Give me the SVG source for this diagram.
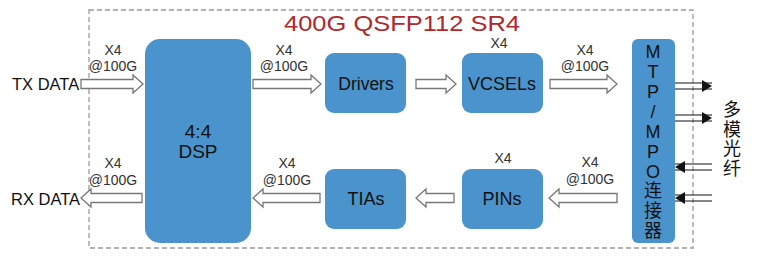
<svg xmlns="http://www.w3.org/2000/svg" width="761" height="259" viewBox="0 0 761 259">
<defs>
<style>
.box{fill:#4A93CD;}
.bt{font-family:"Liberation Sans",Arial,sans-serif;fill:#111;text-anchor:middle;}
.lbl{font-family:"Liberation Sans",Arial,sans-serif;font-size:14px;fill:#333;text-anchor:middle;}
.io{font-family:"Liberation Sans",Arial,sans-serif;font-size:16.5px;fill:#111;}
.ha{fill:#fff;stroke:#777;stroke-width:1.3;}
.fl{stroke:#111;stroke-width:1.2;fill:none;}
.cjk{font-family:"Liberation Sans","Noto Sans CJK SC",sans-serif;fill:#111;text-anchor:middle;}
</style>
</defs>
<rect width="761" height="259" fill="#fff"/>
<rect x="89" y="10" width="604" height="238" fill="none" stroke="#9a9a9a" stroke-width="1.3" stroke-dasharray="5,3"/>
<text x="402" y="31" font-family="Liberation Sans,Arial,sans-serif" font-size="22" fill="#B0282E" text-anchor="middle" textLength="236" lengthAdjust="spacingAndGlyphs">400G QSFP112 SR4</text>

<g id="dsp"><rect class="box" x="145" y="39" width="106" height="204" rx="15"/>
<text class="bt" x="198" y="138" font-size="19">4:4</text><text class="bt" x="198" y="158" font-size="19">DSP</text></g>
<g id="drivers"><rect class="box" x="325" y="53" width="81" height="60" rx="9"/><text class="bt" x="366" y="90" font-size="17.5">Drivers</text></g>
<g id="vcsels"><rect class="box" x="462" y="53" width="81" height="60" rx="9"/><text class="bt" x="502" y="90" font-size="18">VCSELs</text></g>
<g id="tias"><rect class="box" x="325" y="169" width="81" height="60" rx="9"/><text class="bt" x="366" y="205" font-size="18">TIAs</text></g>
<g id="pins"><rect class="box" x="462" y="169" width="81" height="60" rx="9"/><text class="bt" x="502" y="205" font-size="18">PINs</text></g>
<g id="mtp"><rect class="box" x="632" y="39" width="43" height="204" rx="6"/>
<text class="cjk" font-size="18"><tspan x="653" y="58">M</tspan><tspan x="653" y="78">T</tspan><tspan x="653" y="98">P</tspan><tspan x="653" y="118">/</tspan><tspan x="653" y="138">M</tspan><tspan x="653" y="158">P</tspan><tspan x="653" y="178">O</tspan><tspan x="653" y="197">连</tspan><tspan x="653" y="217">接</tspan><tspan x="653" y="237">器</tspan></text></g>
<g id="fiber"><text class="cjk" font-size="18"><tspan x="732" y="116">多</tspan><tspan x="732" y="135.5">模</tspan><tspan x="732" y="155">光</tspan><tspan x="732" y="174.5">纤</tspan></text></g>

<g id="io"><text class="io" x="12" y="90">TX DATA</text><text class="io" x="11" y="205">RX DATA</text></g>

<g id="connectors">
<path class="ha" d="M81,79.5 H133 V75 L143,84 L133,93 V88.5 H81 Z"/>
<path class="ha" d="M253,79.5 H311 V75 L321,84 L311,93 V88.5 H253 Z"/>
<path class="ha" d="M416,79.5 H446 V75 L456,84 L446,93 V88.5 H416 Z"/>
<path class="ha" d="M550,79.5 H607 V75 L617,84 L607,93 V88.5 H550 Z"/>
<path class="ha" d="M617,193.5 H559 V189 L549,198 L559,207 V202.5 H617 Z"/>
<path class="ha" d="M454,193.5 H426 V189 L416,198 L426,207 V202.5 H454 Z"/>
<path class="ha" d="M320,193.5 H263 V189 L253,198 L263,207 V202.5 H320 Z"/>
<path class="ha" d="M142,193.5 H91 V189 L81,198 L91,207 V202.5 H142 Z"/>
<path class="fl" d="M675,83 H712 M675,89 H712"/><path d="M702,80 L712,86 L702,92 Z" fill="#111"/>
<path class="fl" d="M675,115 H712 M675,121 H712"/><path d="M702,112 L712,118 L702,124 Z" fill="#111"/>
<path class="fl" d="M675,164 H712 M675,170 H712"/><path d="M685,161 L675,167 L685,173 Z" fill="#111"/>
<path class="fl" d="M675,195 H712 M675,201 H712"/><path d="M685,192 L675,198 L685,204 Z" fill="#111"/>
</g>

<g id="labels">
<text class="lbl" x="113" y="55">X4</text><text class="lbl" x="113" y="71">@100G</text>
<text class="lbl" x="284" y="55">X4</text><text class="lbl" x="284" y="71">@100G</text>
<text class="lbl" x="499" y="48">X4</text>
<text class="lbl" x="585" y="55">X4</text><text class="lbl" x="585" y="71">@100G</text>
<text class="lbl" x="113" y="168">X4</text><text class="lbl" x="113" y="185">@100G</text>
<text class="lbl" x="287" y="168">X4</text><text class="lbl" x="287" y="185">@100G</text>
<text class="lbl" x="503" y="163">X4</text>
<text class="lbl" x="590" y="167">X4</text><text class="lbl" x="590" y="184">@100G</text>
</g>
</svg>
